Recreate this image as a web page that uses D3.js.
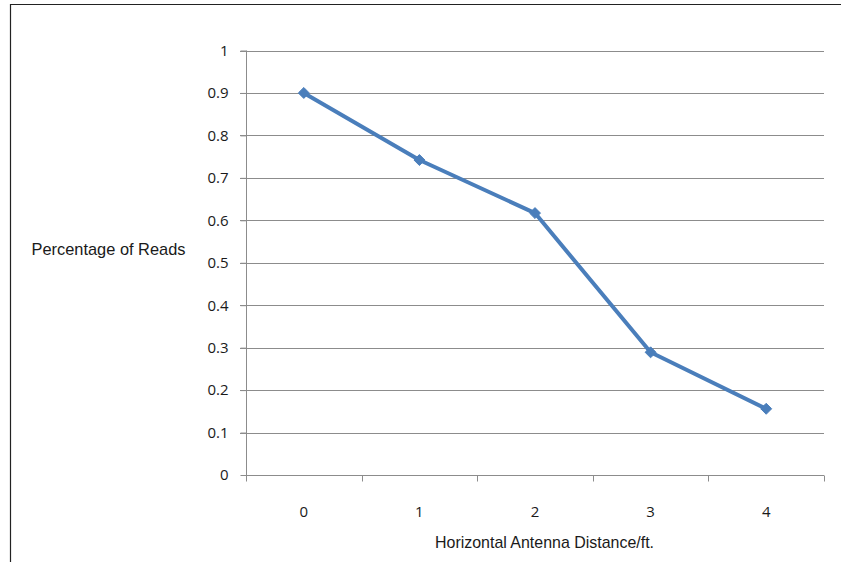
<!DOCTYPE html>
<html><head><meta charset="utf-8">
<script src="https://cdn.jsdelivr.net/npm/d3@7"></script>
<style>body{margin:0;background:#fff}svg{display:block}</style>
</head><body>
<script>
const categories = ["0","1","2","3","4"];
const values = [0.9, 0.742, 0.617, 0.289, 0.156];
const yTicks = [0,0.1,0.2,0.3,0.4,0.5,0.6,0.7,0.8,0.9,1];
const xTitle = "Horizontal Antenna Distance/ft.";
const yTitle = "Percentage of Reads";

const W = 841, H = 562;
const svg = d3.select("body").append("svg").attr("width", W).attr("height", H);
// outer frame (left & top visible)
svg.append("line").attr("x1",10.5).attr("x2",10.5).attr("y1",4).attr("y2",H).attr("stroke","#222").attr("stroke-width",1.2);
svg.append("line").attr("x1",10).attr("x2",W).attr("y1",4.5).attr("y2",4.5).attr("stroke","#222").attr("stroke-width",1.2);

const L = 246, R = 824, T = 50.5, B = 475;
const x = d3.scaleBand().domain(categories).range([L, R]);
const y = d3.scaleLinear().domain([0, 1]).range([B, T]);
const grid = "#8c8c8c";
const txt = "#1a1a1a";
const tickFont = "15px 'Open Sans', sans-serif";
const titleFont = "17px 'Liberation Sans', Arial, sans-serif";

// gridlines
svg.append("g").selectAll("line").data(yTicks.filter(d=>d>0)).join("line")
  .attr("x1", L - 6).attr("x2", R).attr("y1", d=>Math.round(y(d))+0.5).attr("y2", d=>Math.round(y(d))+0.5)
  .attr("stroke", grid).attr("stroke-width", 1);

// y axis
const yAxis = d3.axisLeft(y).tickValues(yTicks).tickSize(6).tickPadding(12).tickFormat(d=>d3.format("")(+d.toFixed(1)));
const gy = svg.append("g").attr("transform", `translate(${L+0.5},0)`).call(yAxis);
gy.select(".domain").attr("stroke", grid).attr("d", `M0,${T}V${B}`);
gy.selectAll(".tick line").attr("stroke", grid);
gy.selectAll(".tick text").attr("fill", txt).style("font", tickFont);

// x axis
const xAxis = d3.axisBottom(x).tickSize(0);
const gx = svg.append("g").attr("transform", `translate(0,${Math.round(B)+0.5})`).call(xAxis);
gx.select(".domain").attr("stroke", grid).attr("d", `M${L},0H${R}`);
gx.selectAll(".tick text").attr("fill", txt).style("font", tickFont).attr("dy", null).attr("y", 41);
// boundary ticks
const bounds = categories.map(c => x(c)).concat([x(categories[categories.length-1]) + x.bandwidth()]);
gx.append("g").selectAll("line").data(bounds).join("line")
  .attr("x1", d=>Math.round(d)+0.5).attr("x2", d=>Math.round(d)+0.5).attr("y1",0).attr("y2",6)
  .attr("stroke", grid);

// line
const cx = c => x(c) + x.bandwidth()/2;
const line = d3.line().x((d,i)=>cx(categories[i])).y(d=>y(d));
svg.append("path").datum(values).attr("d", line).attr("fill","none")
  .attr("stroke","#4a7ebb").attr("stroke-width",4).attr("stroke-linejoin","round");
const squareDiamond = { draw(ctx, size) { const r = Math.sqrt(size / 2);
  ctx.moveTo(0, -r); ctx.lineTo(r, 0); ctx.lineTo(0, r); ctx.lineTo(-r, 0); ctx.closePath(); } };
svg.append("g").selectAll("path").data(values).join("path")
  .attr("d", d3.symbol(squareDiamond, 60))
  .attr("transform", (d,i)=>`translate(${cx(categories[i])},${y(d)})`)
  .attr("fill","#4a7ebb").attr("stroke","#4a7ebb");

// titles
svg.append("text").attr("x", 31.5).attr("y", 255)
  .attr("textLength", 154).attr("lengthAdjust","spacingAndGlyphs")
  .attr("fill", txt).style("font", titleFont).text(yTitle);
svg.append("text").attr("x", 435).attr("y", 547.5)
  .attr("textLength", 219).attr("lengthAdjust","spacingAndGlyphs")
  .attr("fill", txt).style("font", titleFont).text(xTitle);
</script>
</body></html>
